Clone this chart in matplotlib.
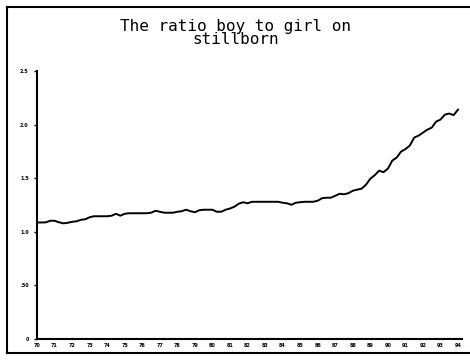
import matplotlib.pyplot as plt
from matplotlib.lines import Line2D

# ratio boy/girl on stillborn
ratio = [
    1.087, 1.087, 1.088, 1.103, 1.103, 1.089, 1.079, 1.084, 1.093, 1.098,
    1.112, 1.117, 1.136, 1.145, 1.145, 1.145, 1.145, 1.150, 1.168, 1.150,
    1.168, 1.173, 1.173, 1.173, 1.173, 1.173, 1.178, 1.196, 1.187, 1.178,
    1.178, 1.178, 1.187, 1.192, 1.206, 1.192, 1.182, 1.201, 1.206, 1.206,
    1.206, 1.187, 1.187, 1.206, 1.217, 1.234, 1.262, 1.276, 1.266, 1.280,
    1.280, 1.280, 1.280, 1.280, 1.280, 1.280, 1.271, 1.266, 1.252, 1.271,
    1.276, 1.280, 1.280, 1.280, 1.290, 1.313, 1.318, 1.318, 1.336, 1.355,
    1.350, 1.360, 1.383, 1.393, 1.402, 1.439, 1.495, 1.528, 1.570, 1.556,
    1.589, 1.664, 1.692, 1.748, 1.771, 1.804, 1.879, 1.897, 1.925, 1.953,
    1.972, 2.028, 2.047, 2.093, 2.103, 2.089, 2.140,
]
periods = list(range(len(ratio)))

y_ticks = [0, 0.5, 1.0, 1.5, 2.0, 2.5]
y_labels = ["0", ".50", "1.0", "1.5", "2.0", "2.5"]
x_ticks = list(range(0, 97, 4))
x_labels = [str(70 + k) for k in range(len(x_ticks))]

fig = plt.figure(figsize=(4.7, 3.63), dpi=100)
ax = fig.add_axes([37 / 470, 24 / 363, 425 / 470, 268 / 363])

ax.plot(periods, ratio, color="black", linewidth=1.4)

ax.set_xlim(0, 96.9)
ax.set_ylim(0, 2.5)

ax.set_yticks(y_ticks)
ax.set_yticklabels(y_labels, fontsize=3.5, fontweight="bold")
ax.set_xticks(x_ticks)
ax.set_xticklabels(x_labels, fontsize=3.5, fontweight="bold")
ax.tick_params(axis="y", length=2, width=1, pad=4)
ax.tick_params(axis="x", length=0, pad=3)

for side in ["top", "right"]:
    ax.spines[side].set_visible(False)
for side in ["left", "bottom"]:
    ax.spines[side].set_linewidth(1.5)

fig.text(236 / 470, 1 - 33 / 363,
         "The ratio boy to girl on\nstillborn",
         ha="center", va="center",
         family="DejaVu Sans Mono", fontsize=11.5, linespacing=0.8)

# frame round the picture (no right side)
fig.add_artist(Line2D([7 / 470, 7 / 470], [1 - 7 / 363, 1 - 353 / 363],
                      transform=fig.transFigure, color="black", lw=1.5))
fig.add_artist(Line2D([7 / 470, 1], [1 - 7 / 363, 1 - 7 / 363],
                      transform=fig.transFigure, color="black", lw=1.5))
fig.add_artist(Line2D([7 / 470, 1], [1 - 353 / 363, 1 - 353 / 363],
                      transform=fig.transFigure, color="black", lw=1.5))

fig.savefig("out.png", dpi=100)
